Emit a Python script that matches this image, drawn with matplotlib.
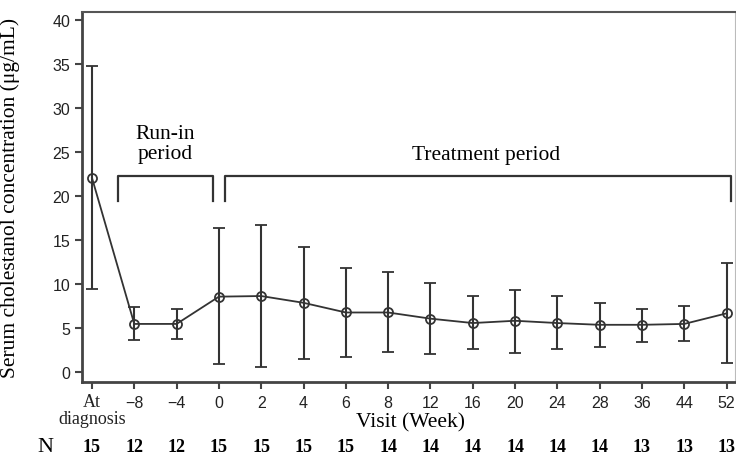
import numpy as np
import matplotlib
matplotlib.use('Agg')
import matplotlib.pyplot as plt
import matplotlib.transforms as mtransforms

# visits and summary values (mean with SD bars)
visits = ['At\ndiagnosis', '\u22128', '\u22124', '0', '2', '4', '6', '8', '12',
          '16', '20', '24', '28', '36', '44', '52']
means = [22.1, 5.5, 5.5, 8.6, 8.67, 7.9, 6.8, 6.8, 6.1, 5.6, 5.86, 5.6, 5.4, 5.4, 5.5, 6.7]
upper = [34.8, 7.45, 7.2, 16.4, 16.7, 14.2, 11.9, 11.4, 10.2, 8.67, 9.4, 8.67, 7.9, 7.2, 7.5, 12.4]
lower = [9.5, 3.7, 3.8, 0.9, 0.64, 1.55, 1.77, 2.27, 2.1, 2.6, 2.2, 2.7, 2.9, 3.5, 3.6, 1.06]
n_counts = [15, 12, 12, 15, 15, 15, 15, 14, 14, 14, 14, 14, 14, 13, 13, 13]

serif = ['Liberation Serif', 'DejaVu Serif']
narrow = ['Liberation Sans Narrow', 'Liberation Sans', 'DejaVu Sans']
ink = '#333333'

fig = plt.figure(figsize=(7.36, 4.64), dpi=100)
ax = fig.add_axes([82/736, 1 - 383/464, (735-82)/736, (383-13)/464])

x = np.arange(len(visits))
means = np.array(means)
yerr = [means - np.array(lower), np.array(upper) - means]
ax.errorbar(x, means, yerr=yerr, color=ink, lw=1.3, elinewidth=1.5, capsize=4.5, capthick=1.8,
            marker='o', markersize=6.5, markerfacecolor='none', markeredgecolor=ink,
            markeredgewidth=1.3)

ax.set_xlim(-0.236, 15.2)
ax.set_ylim(-1.1, 40.95)
ax.set_yticks(np.arange(0, 41, 5))
ax.set_xticks(x)
# first label is set in serif below, as in the original
ax.set_xticklabels([''] + visits[1:])

for s in ['left', 'bottom']:
    ax.spines[s].set_linewidth(2)
    ax.spines[s].set_color('#444444')
ax.spines['top'].set_linewidth(1.5)
ax.spines['top'].set_color('#555555')
ax.spines['right'].set_linewidth(0.8)
ax.spines['right'].set_color('#bbbbbb')

ax.tick_params(axis='both', direction='out', length=5, width=1.5, color='#444444',
               labelcolor='#222222', labelsize=11.5)
ax.tick_params(axis='x', pad=4)
for lab in ax.get_yticklabels() + ax.get_xticklabels():
    lab.set_family(narrow)

trans = mtransforms.blended_transform_factory(ax.transData, fig.transFigure)
ax.text(x[0], 1 - 411/464, visits[0], transform=trans, ha='center', va='center',
        family=serif, fontsize=13, linespacing=0.95, color='#222222')

# period brackets
br_top, br_bot = 22.3, 19.5
for x0, x1 in [(0.61, 2.86), (3.14, 15.11)]:
    ax.plot([x0, x0, x1, x1], [br_bot, br_top, br_top, br_bot], color=ink, lw=1.6,
            solid_joinstyle='round', clip_on=False)
ax.text(1.73, 26.0, 'Run-in\nperiod', ha='center', va='center', family=serif,
        fontsize=15.5, linespacing=1.05)
ax.text(9.32, 24.7, 'Treatment period', ha='center', va='center', family=serif, fontsize=15.5)

ax.set_ylabel('Serum cholestanol concentration (\u03bcg/mL)', family=serif, fontsize=15.5)
ax.yaxis.set_label_coords(-62/653, 0.5)
fig.text(410/736, 1 - 423/464, 'Visit (Week)', ha='center', va='center', family=serif,
         fontsize=15.5)

# N row under the axis
for xi, n in zip(x, n_counts):
    ax.text(xi, 1 - 448/464, str(n), transform=trans, ha='center', va='center',
            family=serif, fontweight='bold', fontsize=13)
fig.text(45/736, 1 - 448/464, 'N', ha='center', va='center', family=serif, fontsize=16)

fig.savefig('out.png', dpi=100)
